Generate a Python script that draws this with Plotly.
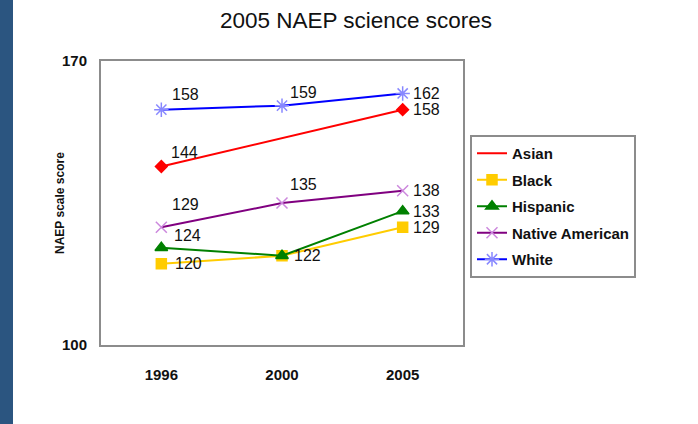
import plotly.graph_objects as go

# NAEP science scale scores by group
years = ["1996", "2000", "2005"]
asian = [144, None, 158]
black = [120, 122, 129]
hispanic = [124, 122, 133]
native_american = [129, 135, 138]
white = [158, 159, 162]

W, H = 698, 424
L, R, T, B = 101, 235, 61, 79
PW, PH = W - L - R, H - T - B

FONT = "Liberation Sans, Arial, sans-serif"

series = [
    ("Asian", asian, "#ff0000", "#ff0000", "diamond", 9),
    ("Black", black, "#ffcc00", "#ffcc00", "square", 10),
    ("Hispanic", hispanic, "#008000", "#008000", "triangle-up", 11),
    ("Native American", native_american, "#800080", "#cc88dd", "x-thin-open", 11),
    ("White", white, "#0000ff", "#8888ff", "asterisk-open", 12),
]

# value-label placement (pixel shifts) per series and year; None = no label
label_shift = {
    "Asian": [(23, 14), None, (24, 0)],
    "Black": [(27, 0), None, (24, 0)],
    "Hispanic": [(26, 12), (25, 0), (24, 0)],
    "Native American": [(24, 23), (21, 19), (24, 0)],
    "White": [(24, 15), (21, 13), (24, 0)],
}

fig = go.Figure()
annotations = []
for name, vals, lc, mc, sym, ms in series:
    fig.add_trace(go.Scatter(
        x=years, y=vals, name=name, mode="lines+markers",
        connectgaps=True, legendgroup=name,
        showlegend=(name != "Asian"),
        line=dict(color=lc, width=2),
        marker=dict(symbol=sym, size=ms, color=mc,
                    line=dict(color=mc, width=1.5)),
    ))
    if name == "Asian":
        # legend entry for Asian shows the line only
        fig.add_trace(go.Scatter(
            x=[None], y=[None], name=name, mode="lines",
            legendgroup=name,
            line=dict(color=lc, width=2),
        ))
    for idx, (v, sh) in enumerate(zip(vals, label_shift[name])):
        if v is None or sh is None:
            continue
        # category axis: annotation x given as category index
        annotations.append(dict(
            x=idx, y=v, text=str(v), showarrow=False,
            xshift=sh[0], yshift=sh[1],
            font=dict(family=FONT, size=16, color="#111111"),
        ))

annotations.append(dict(
    text="<b>NAEP scale score</b>", textangle=-90, showarrow=False,
    xref="paper", yref="paper", x=(60 - L) / PW, y=0.5,
    xanchor="center", yanchor="middle",
    font=dict(family=FONT, size=12, color="#111111"),
))

fig.update_layout(
    width=W, height=H,
    margin=dict(l=L, r=R, t=T, b=B, autoexpand=False),
    paper_bgcolor="#ffffff", plot_bgcolor="#ffffff",
    font=dict(family=FONT, color="#111111"),
    title=dict(text="2005 NAEP science scores", x=356 / W, xanchor="center",
               xref="container", yref="container", y=1 - 20 / H, yanchor="middle",
               font=dict(family=FONT, size=22.5, color="#111111")),
    xaxis=dict(type="category", range=[-0.5, 2.5], showgrid=False, zeroline=False,
               showline=True, mirror=True, linecolor="#8c8c8c", linewidth=2,
               ticks="", ticklabelstandoff=15,
               tickfont=dict(family=FONT, size=15, weight="bold", color="#111111")),
    yaxis=dict(range=[100, 170], tickvals=[100, 170], showgrid=False, zeroline=False,
               showline=True, mirror=True, linecolor="#8c8c8c", linewidth=2,
               ticks="", ticklabelstandoff=9,
               tickfont=dict(family=FONT, size=15, weight="bold", color="#111111")),
    legend=dict(x=(470 - L) / PW, xanchor="left", y=(H - B - 135) / PH, yanchor="top",
                bordercolor="#8c8c8c", borderwidth=2, bgcolor="#ffffff",
                tracegroupgap=4, traceorder="grouped", itemwidth=30,
                font=dict(family=FONT, size=15, weight="bold", color="#111111")),
    annotations=annotations,
    shapes=[dict(type="rect", xref="paper", yref="paper",
                 x0=-L / PW, x1=(13 - L) / PW, y0=-B / PH, y1=1 + T / PH,
                 fillcolor="#2b5580", line=dict(width=0), layer="below")],
)

fig.write_html("out.html")
